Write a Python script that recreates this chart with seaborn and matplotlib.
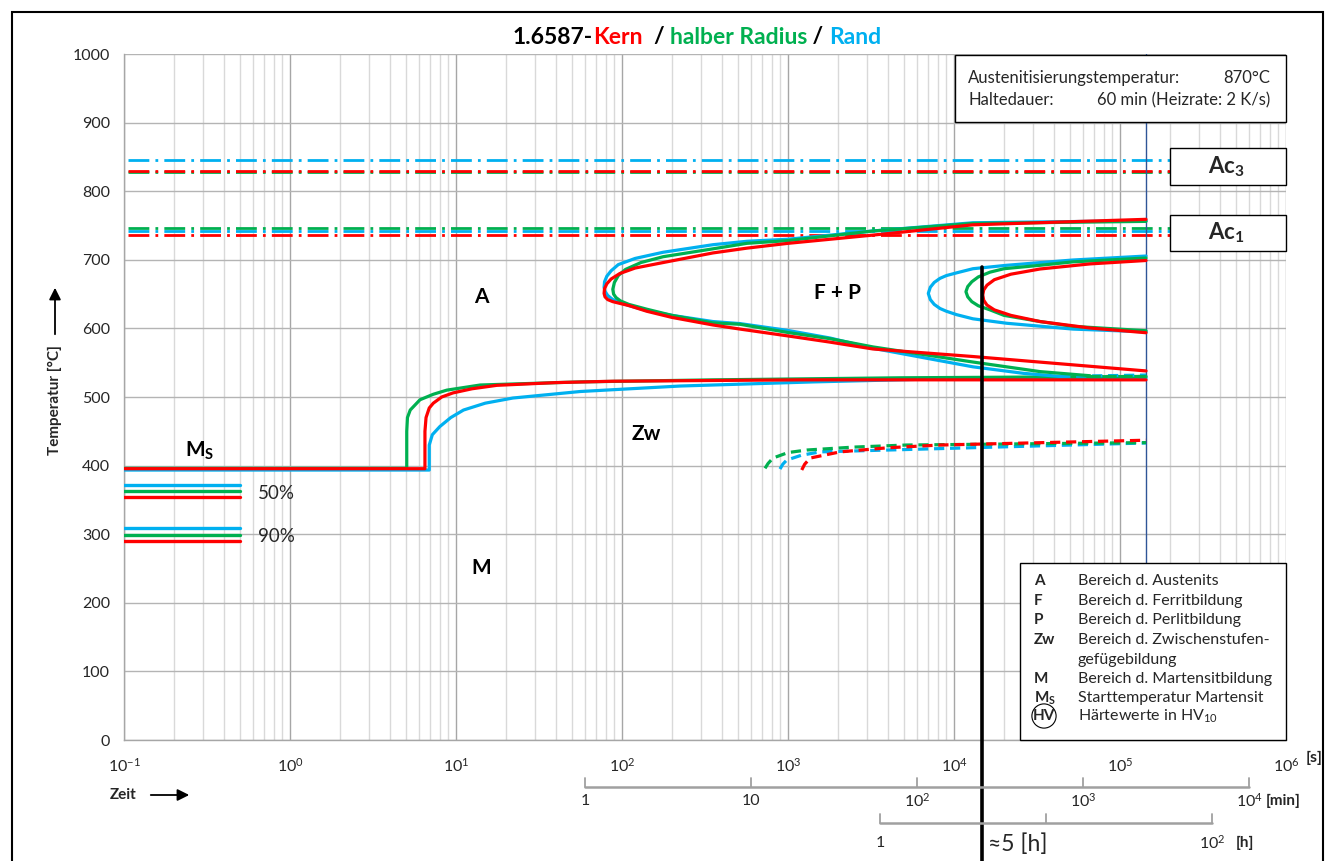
import matplotlib
matplotlib.use("Agg")
import matplotlib.pyplot as plt
from matplotlib.patches import Rectangle, FancyArrowPatch
from matplotlib.lines import Line2D
from matplotlib.ticker import FixedLocator, FuncFormatter, NullFormatter, MultipleLocator
import numpy as np
import seaborn as sns

# ---------------- data ----------------
RED, GREEN, BLUE = "#FF0000", "#00B050", "#00B0F0"

# Ac temperatures (Kern / halber Radius / Rand)
ac3_kern, ac3_halb, ac3_rand = 830, 828, 845
ac1_kern, ac1_halb, ac1_rand = 736, 746, 742
ac_t_range = [0.105, 2.1e5]

# martensite amount lines (50 % / 90 %)
m50_kern, m50_halb, m50_rand = 354, 363, 372
m90_kern, m90_halb, m90_rand = 290, 299, 309
m_t_range = [0.1, 0.5]

# Ms + bainite start curves (time in s, temperature in °C)
bs_kern_t = [0.1, 6.5, 6.5, 6.6, 6.9, 7.3, 8.2, 9.6, 12.5, 17.6, 40, 89, 1180, 143500]
bs_kern_T = [395.5, 395.5, 450, 470, 484, 491, 500, 506, 512, 517, 521, 523, 525, 525]
bs_halb_t = [0.1, 5.05, 5.05, 5.1, 5.3, 6.07, 7.3, 8.8, 14, 56, 353, 4730, 143500]
bs_halb_T = [396, 396, 450, 470, 481, 496, 504, 510, 517.5, 522, 525, 528, 530]
bs_rand_t = [0.1, 6.9, 6.9, 7.2, 8.0, 9.3, 11.1, 15, 22, 56, 224, 1420, 10000, 143500]
bs_rand_T = [393.5, 393.5, 430, 445, 457, 470, 481, 491, 498.5, 508, 516, 522, 527, 528]

# ferrite start curves (upper end -> nose -> lower end)
fs_kern_t = [143500, 13000, 3250, 1000, 566, 353, 177, 120, 97, 86, 81, 78.5, 78, 79, 82, 88,
             111, 141, 200, 353, 514, 1000, 1790, 3250, 13000, 143500]
fs_kern_T = [759, 751, 736, 724, 717, 710, 696, 688, 680, 672, 665, 658, 651, 646, 642, 639,
             633, 625, 616, 605, 599, 589, 580, 570, 559, 538]
fs_halb_t = [143500, 13000, 3250, 1000, 566, 353, 177, 130, 105, 95, 90, 88, 89, 92, 98, 110,
             141, 200, 353, 514, 1000, 1790, 3250, 13000, 33000, 65900]
fs_halb_T = [756, 753, 742, 728, 724, 716, 704.5, 696, 686, 677, 667, 657, 650, 645, 640, 635,
             628, 619, 608, 606, 594, 585, 573, 551, 537, 531]
fs_rand_t = [143500, 13000, 3250, 1000, 566, 353, 177, 120, 95, 86, 81, 78.5, 78, 79, 82, 88,
             111, 141, 200, 353, 514, 1000, 1790, 3250, 13000, 26200, 43600]
fs_rand_T = [757, 754, 742, 730, 727, 722, 711, 702, 693, 684, 676, 668, 660, 654, 648, 642,
             633, 626, 619, 610, 607, 597, 586, 571, 544, 534.5, 530]
# dashed continuation of the lower branch
fs_halb_dash_t = [65900, 143500]
fs_halb_dash_T = [531, 531]
fs_rand_dash_t = [43600, 143500]
fs_rand_dash_T = [530, 532]

# pearlite start curves (upper end -> nose -> lower end)
ps_kern_t = [143500, 65900, 33000, 22000, 17500, 15800, 15100, 14900, 15100, 15800, 17500, 22000,
             33000, 65900, 143500]
ps_kern_T = [699, 694, 686.6, 679, 671, 663, 656, 648.7, 641, 634, 627, 619, 610, 600.6, 593.7]
ps_halb_t = [143500, 52100, 33000, 20000, 16480, 14000, 12800, 12100, 11800, 12100, 12800, 14000,
             16480, 20000, 33000, 52100, 143500]
ps_halb_T = [702.6, 697, 692, 687, 682, 675, 668, 661, 653.5, 646, 639, 633, 627, 619, 610, 603, 596.6]
ps_rand_t = [143500, 52100, 20760, 13000, 10380, 9000, 8240, 7600, 7200, 7000, 7200, 7600, 8240,
             9000, 10380, 13000, 20760, 52100, 143500]
ps_rand_T = [705.5, 699.7, 692, 687, 681, 677, 673, 667, 660, 651, 642, 635, 629, 625, 620, 614,
             607.5, 599, 595]

# dashed lower curves
dl_kern_t = [1210, 1260, 1360, 2060, 4000, 8240, 143500]
dl_kern_T = [393.6, 402, 411, 420, 426, 430, 437]
dl_halb_t = [727, 758, 812, 1000, 1297, 2500, 5190, 143500]
dl_halb_T = [396, 403, 411, 419, 422.7, 427, 430, 433.5]
dl_rand_t = [895, 930, 982, 1200, 1560, 143500]
dl_rand_T = [395, 402, 408, 415, 420, 433]

t_limit = 143500          # end of measured curves (blue vertical)
t_marker = 14750          # black marker line (~5 h)
marker_T = [690, -176]

sec_decades = [-1, 0, 1, 2, 3, 4, 5, 6]
min_ticks = [60, 600, 6000, 60000, 600000]
min_labels = ["1", "10", "10$^{2}$", "10$^{3}$", "10$^{4}$"]
h_ticks = [3600, 36000, 360000]
h_labels = ["1", "", "10$^{2}$"]

legend_sym = ["A", "F", "P", "Zw", "", "M", "M$_\\mathbf{S}$", "HV"]
legend_txt = ["Bereich d. Austenits", "Bereich d. Ferritbildung", "Bereich d. Perlitbildung",
              "Bereich d. Zwischenstufen-", "gefügebildung", "Bereich d. Martensitbildung",
              "Starttemperatur Martensit", "Härtewerte in HV$_{10}$"]

# ---------------- style ----------------
sns.set_style("white")
plt.rcParams["font.family"] = ["Lato", "DejaVu Sans"]
plt.rcParams["mathtext.fontset"] = "custom"
plt.rcParams["mathtext.rm"] = "Lato"
plt.rcParams["mathtext.bf"] = "Lato:bold"
plt.rcParams["mathtext.it"] = "Lato:italic"

W, H = 1325, 861
fig = plt.figure(figsize=(W / 100, H / 100), dpi=100)
fig.patch.set_facecolor("white")


def fx(px):
    return px / W


def fy(py):
    return 1 - py / H


ax = fig.add_axes([fx(124), fy(740), (1286 - 124) / W, (740 - 54) / H])
ax.set_xscale("log")
ax.set_xlim(0.1, 1e6)
ax.set_ylim(0, 1000)
ax.set_facecolor("white")

major_x = [10.0 ** k for k in sec_decades]
minor_x = [m * 10.0 ** k for k in sec_decades[:-1] for m in range(2, 10)]
ax.xaxis.set_major_locator(FixedLocator(major_x))
ax.xaxis.set_minor_locator(FixedLocator(minor_x))
ax.xaxis.set_major_formatter(FuncFormatter(lambda v, p: "10$^{%d}$" % int(round(np.log10(v)))))
ax.xaxis.set_minor_formatter(NullFormatter())
ax.yaxis.set_major_locator(MultipleLocator(100))

ax.grid(which="major", axis="x", color="#A6A6A6", lw=1.0, zorder=0)
ax.grid(which="minor", axis="x", color="#D9D9D9", lw=1.0, zorder=0)
ax.grid(which="major", axis="y", color="#B4B4B4", lw=1.0, zorder=0)
ax.set_axisbelow(True)
for s in ["top", "right"]:
    ax.spines[s].set_visible(False)
for s in ["left", "bottom"]:
    ax.spines[s].set_color("#A6A6A6")
    ax.spines[s].set_linewidth(1.0)
ax.tick_params(axis="x", which="major", direction="out", length=6, color="#A6A6A6",
               labelsize=11.5, labelcolor="#262626", pad=6)
ax.tick_params(axis="x", which="minor", direction="out", length=5, color="#BFBFBF")
ax.tick_params(axis="y", which="major", direction="out", length=6, color="#A6A6A6",
               labelsize=11.5, labelcolor="#262626", pad=4)

LW = 2.3


def line(t, T, color, ls="-", lw=LW, z=3):
    sns.lineplot(x=t, y=T, sort=False, estimator=None, color=color, lw=lw,
                 linestyle=ls, ax=ax, zorder=z, legend=False, solid_capstyle="round")


# Ac lines (dash-dot)
dd = (0, (7.5, 2.2, 1.0, 2.2))
for T, c in [(ac3_rand, BLUE), (ac3_halb, GREEN), (ac3_kern, RED),
             (ac1_halb, GREEN), (ac1_rand, BLUE), (ac1_kern, RED)]:
    line(ac_t_range, [T, T], c, ls=dd, lw=2.0, z=2)

# martensite amount lines
for T, c in [(m50_rand, BLUE), (m50_halb, GREEN), (m50_kern, RED),
             (m90_rand, BLUE), (m90_halb, GREEN), (m90_kern, RED)]:
    line(m_t_range, [T, T], c, lw=2.4)

# blue vertical end-of-data line
ax.axvline(t_limit, color="#2F5597", lw=1.0, zorder=2)

# Ms + bainite
line(bs_rand_t, bs_rand_T, BLUE)
line(bs_halb_t, bs_halb_T, GREEN)
line(bs_kern_t, bs_kern_T, RED)

# ferrite
dash = (0, (3.2, 1.8))
line(fs_rand_t, fs_rand_T, BLUE)
line(fs_rand_dash_t, fs_rand_dash_T, BLUE, ls=dash)
line(fs_halb_t, fs_halb_T, GREEN)
line(fs_halb_dash_t, fs_halb_dash_T, GREEN, ls=dash)
line(fs_kern_t, fs_kern_T, RED)

# pearlite
line(ps_rand_t, ps_rand_T, BLUE)
line(ps_halb_t, ps_halb_T, GREEN)
line(ps_kern_t, ps_kern_T, RED)

# dashed lower curves
line(dl_rand_t, dl_rand_T, BLUE, ls=dash)
line(dl_halb_t, dl_halb_T, GREEN, ls=dash)
line(dl_kern_t, dl_kern_T, RED, ls=dash)

# black marker line (extends below the axes)
ax.plot([t_marker, t_marker], marker_T, color="black", lw=2.6, clip_on=False, zorder=6)

# region labels
lab = dict(fontsize=15, fontweight="bold", ha="center", va="center", color="black", zorder=5)
ax.text(14.3, 646, "A", **lab)
ax.text(2000, 652, "F + P", **lab)
ax.text(140, 446, "Zw", **lab)
ax.text(14.1, 251, "M", **lab)
ax.text(0.287, 421, "M$_\\mathbf{S}$", **lab)
ax.text(0.64, 360, "50%", fontsize=13.5, ha="left", va="center")
ax.text(0.64, 296, "90%", fontsize=13.5, ha="left", va="center")

# ---------------- figure-level decorations ----------------
fig.add_artist(Rectangle((fx(12), fy(875)), fx(1323) - fx(12), fy(12) - fy(875),
                         transform=fig.transFigure, fill=False, ec="black", lw=1.5))

# info box
fig.add_artist(Rectangle((fx(955), fy(122)), fx(1286) - fx(955), fy(55) - fy(122),
                         transform=fig.transFigure, fc="white", ec="black", lw=1.0, zorder=4))
fig.text(fx(968), fy(78), "Austenitisierungstemperatur:", fontsize=12, va="center", ha="left", zorder=5)
fig.text(fx(1270), fy(78), "870°C", fontsize=12, va="center", ha="right", zorder=5)
fig.text(fx(968), fy(100), "Haltedauer:", fontsize=12, va="center", ha="left", zorder=5)
fig.text(fx(1270), fy(100), "60 min (Heizrate: 2 K/s)", fontsize=12, va="center", ha="right", zorder=5)

# Ac boxes
for (y0, y1, txt) in [(148, 185, "Ac$_\\mathbf{3}$"), (215, 251, "Ac$_\\mathbf{1}$")]:
    fig.add_artist(Rectangle((fx(1170), fy(y1)), fx(1286) - fx(1170), fy(y0) - fy(y1),
                             transform=fig.transFigure, fc="white", ec="black", lw=1.0, zorder=4))
    fig.text(fx(1226), fy((y0 + y1) / 2), txt, fontsize=16, fontweight="bold",
             ha="center", va="center", zorder=5)

# legend box
fig.add_artist(Rectangle((fx(1020), fy(740)), fx(1286) - fx(1020), fy(563) - fy(740),
                         transform=fig.transFigure, fc="white", ec="black", lw=1.0, zorder=4))
rows_y = [581, 601, 620, 640, 660, 679, 698, 716]
for sym, txt, yy in zip(legend_sym, legend_txt, rows_y):
    if sym == "HV":
        fig.text(fx(1044), fy(yy), sym, fontsize=11, fontweight="bold", ha="center", va="center",
                 zorder=5, bbox=dict(boxstyle="circle,pad=0.06", fc="none", ec="black", lw=0.8))
    elif sym:
        fig.text(fx(1034), fy(yy), sym, fontsize=11, fontweight="bold", ha="left", va="center", zorder=5)
    fig.text(fx(1078), fy(yy), txt, fontsize=11.5, ha="left", va="center", zorder=5)

# title (multi-coloured)
pieces = [("1.6587-", "black"), ("Kern", RED), ("  / ", "black"),
          ("halber Radius", GREEN), (" / ", "black"), ("Rand", BLUE)]
TFS = 16.5
renderer = fig.canvas.get_renderer()
tmp = [fig.text(0.5, 0.5, s, fontsize=TFS, fontweight="bold", color=c) for s, c in pieces]
widths = [t.get_window_extent(renderer).width for t in tmp]
for t in tmp:
    t.remove()
x0 = 697 - sum(widths) / 2
for (s, c), w in zip(pieces, widths):
    fig.text(fx(x0), fy(37), s, fontsize=TFS, fontweight="bold", color=c, ha="left", va="center")
    x0 += w

# axis titles
fig.text(fx(55), fy(400), "Temperatur [°C]", rotation=90, fontsize=11, fontweight="bold",
         ha="center", va="center")
fig.add_artist(FancyArrowPatch((fx(55), fy(337)), (fx(55), fy(285)),
               transform=fig.transFigure, arrowstyle="-|>,head_length=7,head_width=3.5",
               color="black", lw=1.3, mutation_scale=1))
fig.text(fx(110), fy(795), "Zeit", fontsize=11, fontweight="bold", ha="left", va="center")
fig.add_artist(FancyArrowPatch((fx(148), fy(795)), (fx(192), fy(795)),
               transform=fig.transFigure, arrowstyle="-|>,head_length=7,head_width=3.5",
               color="black", lw=1.3, mutation_scale=1))
fig.text(fx(1306), fy(758), "[s]", fontsize=11.5, fontweight="bold", ha="left", va="center")

# secondary time scales (minutes / hours): positions taken from the main time axis
scale_col = "#A0A0A0"


def x_px(t):
    disp = ax.transData.transform((t, 0))[0]
    return fig.transFigure.inverted().transform((disp, 0))[0]


for ticks, labels, y_line, y_lab, unit, unit_x in [
        (min_ticks, min_labels, 787, 801, "[min]", 1266),
        (h_ticks, h_labels, 823, 843, "[h]", 1236)]:
    xs = [x_px(tk) for tk in ticks]
    fig.add_artist(Line2D([xs[0], xs[-1]], [fy(y_line)] * 2, color=scale_col, lw=1.8,
                          transform=fig.transFigure))
    for xx, lb in zip(xs, labels):
        fig.add_artist(Line2D([xx, xx], [fy(y_line), fy(y_line - 9)], color=scale_col, lw=1.3,
                              transform=fig.transFigure))
        if lb:
            fig.text(xx, fy(y_lab), lb, fontsize=11.5, ha="center", va="center", color="#262626")
    fig.text(fx(unit_x), fy(y_lab), unit, fontsize=11, fontweight="bold", ha="left", va="center")

fig.text(fx(988), fy(844), "≈5 [h]", fontsize=16.5, ha="left", va="center")

fig.savefig("out.png", dpi=100, facecolor="white")
